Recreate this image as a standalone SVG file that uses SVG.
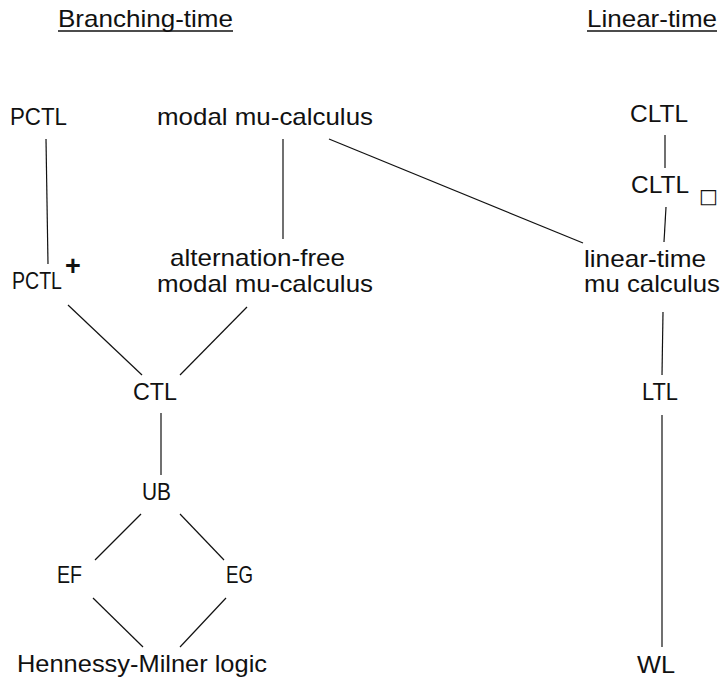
<svg xmlns="http://www.w3.org/2000/svg" width="722" height="682" viewBox="0 0 722 682">
  <style>
    .lbl { font-family: "Liberation Sans", Arial, sans-serif; font-size: 24px; fill: #111; }
    .head { font-family: "Liberation Sans", Arial, sans-serif; font-size: 24px; fill: #111; }
    .sup { font-size: 27px; font-weight: bold; }
    .rule { stroke: #111; stroke-width: 1.4; }
    .edge { stroke: #111; stroke-width: 1.2; fill: none; }
  </style>
  <rect width="722" height="682" fill="#fff"/>

  <!-- column headings -->
  <g id="heading-branching">
    <text class="head" x="58" y="27" textLength="175" lengthAdjust="spacingAndGlyphs">Branching-time</text>
    <line class="rule" x1="58" y1="31" x2="233" y2="31"/>
  </g>
  <g id="heading-linear">
    <text class="head" x="587" y="27" textLength="130" lengthAdjust="spacingAndGlyphs">Linear-time</text>
    <line class="rule" x1="587" y1="31" x2="717" y2="31"/>
  </g>

  <!-- connectors -->
  <g id="connectors">
    <line class="edge" x1="46" y1="139" x2="48" y2="264"/>
    <line class="edge" x1="283" y1="139" x2="283" y2="239"/>
    <line class="edge" x1="329" y1="139" x2="583" y2="243"/>
    <line class="edge" x1="68" y1="305" x2="142" y2="375"/>
    <line class="edge" x1="247" y1="307" x2="180" y2="375"/>
    <line class="edge" x1="161" y1="413" x2="161" y2="475"/>
    <line class="edge" x1="141" y1="514" x2="95" y2="560"/>
    <line class="edge" x1="180" y1="514" x2="224" y2="560"/>
    <line class="edge" x1="93" y1="598" x2="143" y2="647"/>
    <line class="edge" x1="226" y1="598" x2="180" y2="647"/>
    <line class="edge" x1="665" y1="135" x2="665" y2="168"/>
    <line class="edge" x1="666" y1="207" x2="664" y2="242"/>
    <line class="edge" x1="663" y1="312" x2="662" y2="375"/>
    <line class="edge" x1="662" y1="415" x2="662" y2="647"/>
  </g>

  <!-- branching-time logics -->
  <g id="node-pctl">
    <text class="lbl" x="10" y="125" textLength="57" lengthAdjust="spacingAndGlyphs">PCTL</text>
  </g>
  <g id="node-modal-mu">
    <text class="lbl" x="157" y="125" textLength="216" lengthAdjust="spacingAndGlyphs">modal mu-calculus</text>
  </g>
  <g id="node-pctl-plus">
    <text class="lbl" x="12" y="289"><tspan textLength="50" lengthAdjust="spacingAndGlyphs">PCTL</tspan><tspan class="sup" x="65" y="275">+</tspan></text>
  </g>
  <g id="node-alt-free">
    <text class="lbl" x="170" y="266" textLength="175" lengthAdjust="spacingAndGlyphs">alternation-free</text>
    <text class="lbl" x="157" y="292" textLength="216" lengthAdjust="spacingAndGlyphs">modal mu-calculus</text>
  </g>
  <g id="node-ctl">
    <text class="lbl" x="133" y="400" textLength="44" lengthAdjust="spacingAndGlyphs">CTL</text>
  </g>
  <g id="node-ub">
    <text class="lbl" x="142" y="500" textLength="29" lengthAdjust="spacingAndGlyphs">UB</text>
  </g>
  <g id="node-ef">
    <text class="lbl" x="57" y="583" textLength="25" lengthAdjust="spacingAndGlyphs">EF</text>
  </g>
  <g id="node-eg">
    <text class="lbl" x="226" y="583" textLength="27" lengthAdjust="spacingAndGlyphs">EG</text>
  </g>
  <g id="node-hml">
    <text class="lbl" x="17" y="672" textLength="250" lengthAdjust="spacingAndGlyphs">Hennessy-Milner logic</text>
  </g>

  <!-- linear-time logics -->
  <g id="node-cltl">
    <text class="lbl" x="630" y="122" textLength="58" lengthAdjust="spacingAndGlyphs">CLTL</text>
  </g>
  <g id="node-cltl-box">
    <text class="lbl" x="631" y="193"><tspan textLength="58" lengthAdjust="spacingAndGlyphs">CLTL</tspan><tspan x="699" y="203" font-family="DejaVu Sans, sans-serif" font-size="20">□</tspan></text>
  </g>
  <g id="node-linear-mu">
    <text class="lbl" x="584" y="267" textLength="122" lengthAdjust="spacingAndGlyphs">linear-time</text>
    <text class="lbl" x="584" y="292" textLength="136" lengthAdjust="spacingAndGlyphs">mu calculus</text>
  </g>
  <g id="node-ltl">
    <text class="lbl" x="642" y="400" textLength="36" lengthAdjust="spacingAndGlyphs">LTL</text>
  </g>
  <g id="node-wl">
    <text class="lbl" x="637" y="673" textLength="38" lengthAdjust="spacingAndGlyphs">WL</text>
  </g>
</svg>
